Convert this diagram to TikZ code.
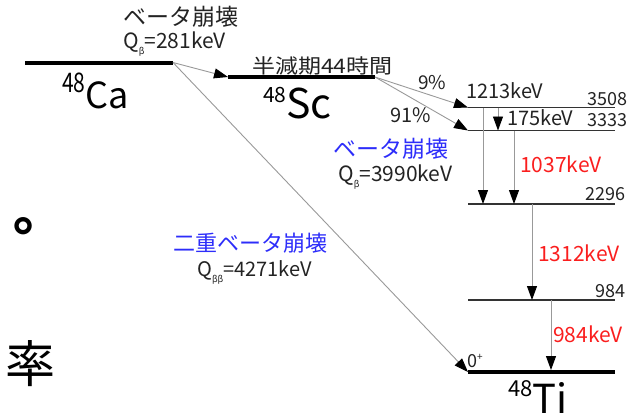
\documentclass[tikz,border=0pt]{standalone}
\usepackage{fontspec}
\setmainfont{Noto Sans CJK JP}
\usepackage{xcolor}
\usetikzlibrary{arrows.meta}

\definecolor{decayblue}{RGB}{45,45,250}
\definecolor{gammared}{RGB}{250,30,30}
\definecolor{textgray}{RGB}{35,35,35}
\newcommand{\fsz}[1]{\fontsize{#1}{#1}\selectfont}
\newcommand{\Qsub}[1]{Q\raisebox{-6pt}{\fsz{9}#1}}

\tikzset{
  ground/.style={draw=black, line width=4pt},
  excited/.style={draw=black!80, line width=1.3pt},
  trans/.style={draw=black!40, line width=0.9pt,
    -{Triangle[length=14pt, width=10pt, color=black]}},
  lbl/.style={anchor=base west, inner sep=0pt, text=textgray},
  energy/.style={anchor=base east, inner sep=0pt, text=textgray, font=\fsz{18}},
  gammalbl/.style={lbl, text=gammared, font=\fsz{21}},
  decaylbl/.style={lbl, text=decayblue, font=\fsz{23}},
}

\begin{document}
\begin{tikzpicture}[x=1pt, y=-1pt, font=\fsz{21}]
        \useasboundingbox (0,0) rectangle (633,418);

        % --- slide text behind the scheme ---
        \node[anchor=base west, inner sep=0pt, font=\fsz{52}\bfseries] (dot) at (13,230) {。};
        \node[anchor=base west, inner sep=0pt, font=\fsz{50}] (rate) at (5,382) {率};

        % --- levels ---
        \coordinate (Ca-L) at (25,62.5);      \coordinate (Ca-R) at (173,62.5);
        \coordinate (Sc-L) at (228,77);       \coordinate (Sc-R) at (375,77);
        \coordinate (E3508-L) at (468,107.5); \coordinate (E3508-R) at (615,107.5);
        \coordinate (E3333-L) at (468,130.5); \coordinate (E3333-R) at (615,130.5);
        \coordinate (E2296-L) at (468,204);   \coordinate (E2296-R) at (615,204);
        \coordinate (E984-L) at (468,300);    \coordinate (E984-R) at (615,300);
        \coordinate (Ti-L) at (468,372);      \coordinate (Ti-R) at (615,372);

        \draw[ground] (Ca-L) -- (Ca-R);
        \draw[ground, line width=3.5pt] (Sc-L) -- (Sc-R);
        \draw[excited] (E3508-L) -- (E3508-R);
        \draw[excited] (E3333-L) -- (E3333-R);
        \draw[excited] (E2296-L) -- (E2296-R);
        \draw[excited] (E984-L) -- (E984-R);
        \draw[ground] (Ti-L) -- (Ti-R);

        % --- nuclides ---
        \node[lbl, text=black] (ca) at (62,108)
              {{\fsz{27}\raisebox{16pt}{\scalebox{0.78}[1]{48}}}{\fsz{36}Ca}};
        \node[lbl, text=black] (sc) at (263,118)
              {{\fsz{21}\raisebox{16pt}{48}}{\fsz{41}Sc}};
        \node[lbl, text=black, text depth=0pt] (ti) at (508,413)
              {{\fsz{22}\raisebox{17pt}{48}}{\fsz{40}Ti}};

        % --- beta decays ---
        \draw[trans] (Ca-R) -- (Sc-L);
        \node[lbl, font=\fsz{23}] (ca-beta) at (123,25) {ベータ崩壊};
        \node[lbl] (ca-q) at (123,48) {\Qsub{β}=281keV};
        \node[lbl, font=\fsz{20}] (sc-half) at (252,73)
              {\scalebox{1.15}[1]{半減期44時間}};

        \draw[trans] (Sc-R) -- (E3508-L);
        \draw[trans] (Sc-R) -- (E3333-L);
        \node[lbl, font=\fsz{19}] (br9) at (418,89) {9\%};
        \node[lbl, font=\fsz{20}] (br91) at (390,122) {91\%};
        \node[decaylbl] (sc-beta) at (333,157) {ベータ崩壊};
        \node[lbl] (sc-q) at (338,181) {\Qsub{β}=3990keV};

        % --- double beta decay ---
        \draw[trans] (Ca-R) -- (Ti-L);
        \node[decaylbl, font=\fsz{22}] (ca-bb) at (173,251) {二重ベータ崩壊};
        \node[lbl, font=\fsz{20}] (ca-qbb) at (197,276) {\Qsub{ββ}=4271keV};

        % --- gamma cascade ---
        \draw[trans] ([xshift=30]E3508-L) -- ([xshift=30]E3333-L);
        \draw[trans] ([xshift=15]E3508-L) -- ([xshift=15]E2296-L);
        \draw[trans] ([xshift=46]E3333-L) -- ([xshift=46]E2296-L);
        \draw[trans] ([xshift=64]E2296-L) -- ([xshift=64]E984-L);
        \draw[trans] ([xshift=83]E984-L) -- ([xshift=83,yshift=2]Ti-L);

        \node[lbl, font=\fsz{20}] (g1213) at (466,98) {1213keV};
        \node[lbl, font=\fsz{20}] (g175) at (507,125) {175keV};
        \node[gammalbl] (g1037) at (520,172) {1037keV};
        \node[gammalbl] (g1312) at (538,261) {1312keV};
        \node[gammalbl] (g984) at (553,342) {984keV};

        % --- level energies ---
        \node[energy] (e3508) at (628,105) {3508};
        \node[energy] (e3333) at (628,126) {3333};
        \node[energy] (e2296) at (626,200) {2296};
        \node[energy] (e984) at (626,297) {984};
        \node[lbl, font=\fsz{18}] (spin) at (467,367) {0\raisebox{7pt}{\fsz{10}+}};
      \end{tikzpicture}
\end{document}
